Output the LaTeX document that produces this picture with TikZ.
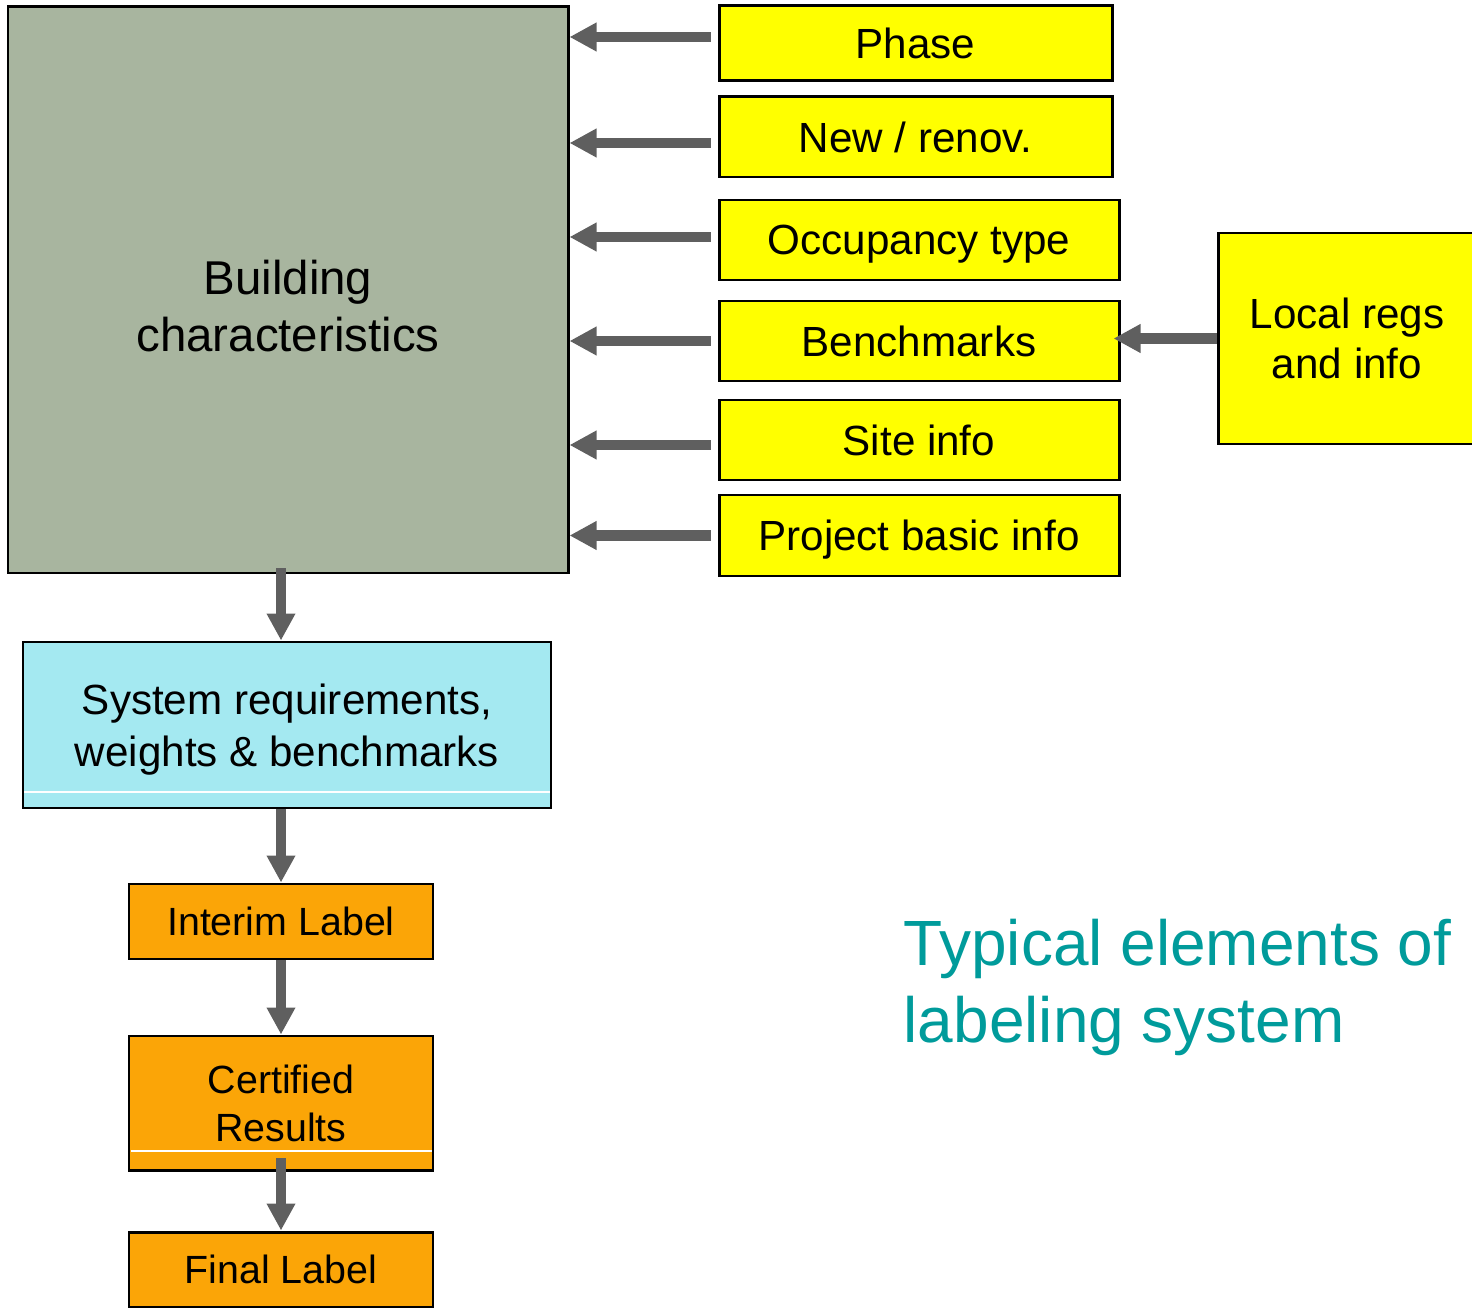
\documentclass[tikz,border=0pt]{standalone}
\usepackage{fontspec}
\setmainfont{Liberation Sans}
\usetikzlibrary{arrows.meta}

\definecolor{sage}{HTML}{A8B59F}
\definecolor{skycyan}{HTML}{A4E9F1}
\definecolor{padyellow}{HTML}{FFFF00}
\definecolor{labelorange}{HTML}{FBA507}
\definecolor{titleteal}{HTML}{009B9B}
\definecolor{arrowgray}{HTML}{5F5F5F}

\tikzset{
  box/.style={draw=black, line width=0.85pt, inner sep=0pt, align=center},
  inputbox/.style={box, fill=padyellow, font=\fontsize{12}{14.2}\selectfont},
  inputrow/.style={inputbox, text depth=0pt},
  stagebox/.style={box, fill=labelorange, minimum width=3.04cm, font=\fontsize{11.2}{13.7}\selectfont},
  feed/.style={draw=arrowgray, line width=2.85pt, -{Triangle[width=0.27cm,length=0.27cm]}},
}

\begin{document}
\begin{tikzpicture}

\useasboundingbox (0,0) rectangle (14.72,-13.08);

\node[box, fill=sage, minimum width=5.60cm, minimum height=5.66cm,
  label={[font=\fontsize{13.5}{16.2}\selectfont, align=center, yshift=-0.16cm]center:Building\\characteristics}]
  (bldg) at (2.88,-2.90) {};

\node[inputrow, minimum width=3.93cm, minimum height=0.75cm] (phase) at (9.155,-0.435) {Phase};
\node[inputrow, minimum width=3.93cm, minimum height=0.80cm] (newren) at (9.155,-1.37) {New / renov.};
\node[inputrow, minimum width=4.00cm, minimum height=0.80cm] (occ) at (9.19,-2.40) {Occupancy type};
\node[inputrow, minimum width=4.00cm, minimum height=0.80cm] (bench) at (9.19,-3.41) {Benchmarks};
\node[inputrow, minimum width=4.00cm, minimum height=0.80cm] (site) at (9.19,-4.40) {Site info};
\node[inputrow, minimum width=4.00cm, minimum height=0.81cm] (proj) at (9.19,-5.355) {Project basic info};

\node[inputbox, minimum width=2.58cm, minimum height=2.11cm] (local) at (13.47,-3.385) {Local regs\\and info};

% inputs into the building box
\foreach \src/\dy in {phase/0.065, newren/-0.06, occ/0.03, bench/0, site/-0.05, proj/0}
  \draw[feed] ([xshift=-0.07cm, yshift=\dy cm]\src.west) -- ([yshift=\dy cm]bldg.east |- \src.west);

\draw[feed] (local.west) -- ([xshift=-0.07cm]bench.east |- local.west);

\node[box, fill=skycyan, minimum width=5.28cm, minimum height=1.66cm,
  label={[font=\fontsize{12}{14.7}\selectfont, align=center, yshift=-0.045cm]center:System requirements,\\weights \& benchmarks}]
  (sysreq) at (2.87,-7.25) {};
\draw[white, line width=0.3pt] (0.245,-7.92) -- (5.495,-7.92);

\node[stagebox, minimum height=0.75cm] (interim) at (2.81,-9.215) {Interim Label};
\node[stagebox, minimum height=1.34cm] (cert) at (2.81,-11.03) {Certified\\Results};
\draw[white, line width=0.3pt] (1.305,-11.51) -- (4.315,-11.51);
\node[stagebox, minimum height=0.75cm] (final) at (2.81,-12.695) {Final Label};

% the chain downwards
\draw[feed] ([yshift=0.06cm]interim.north |- bldg.south) -- (interim.north |- sysreq.north);
\draw[feed] (interim.north |- sysreq.south) -- (interim.north);
\draw[feed] (interim.south) -- (cert.north);
\draw[feed] ([yshift=0.13cm]cert.south) -- (final.north);

\node[anchor=north west, inner sep=0pt, align=left, text=titleteal,
  font=\fontsize{18.2}{21.9}\selectfont] (title) at (9.03,-9.18) {Typical elements of\\labeling system};

\end{tikzpicture}
\end{document}
